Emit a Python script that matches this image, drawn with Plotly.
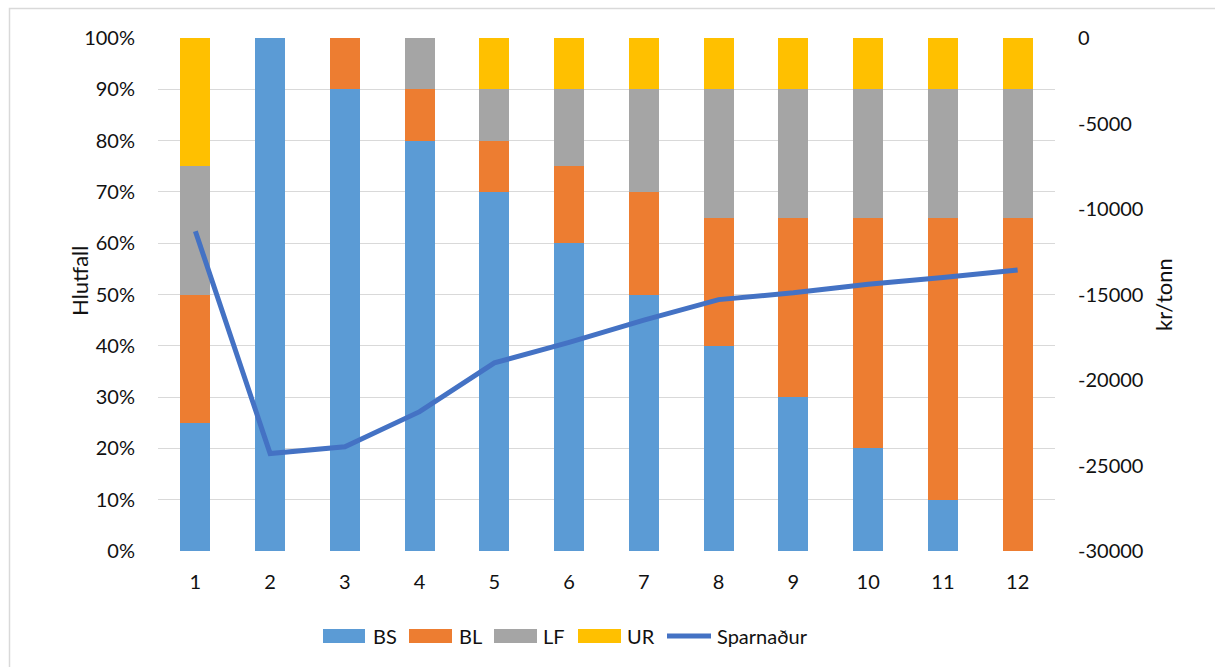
import plotly.graph_objects as go

# Blend scenarios 1..12
scenarios = [str(i) for i in range(1, 13)]

# Share of each component (%)
bs = [25, 100, 90, 80, 70, 60, 50, 40, 30, 20, 10, 0]
bl = [25, 0, 10, 10, 10, 15, 20, 25, 35, 45, 55, 65]
lf = [25, 0, 0, 10, 10, 15, 20, 25, 25, 25, 25, 25]
ur = [25, 0, 0, 0, 10, 10, 10, 10, 10, 10, 10, 10]

# Savings (kr/tonn)
sparnadur = [-11300, -24300, -23900, -21850, -19000, -17800,
             -16500, -15300, -14900, -14400, -14000, -13570]

left_ticks = list(range(0, 101, 10))
left_labels = [f"{v}%" for v in left_ticks]
right_ticks = list(range(-30000, 1, 5000))
right_labels = [str(v) for v in right_ticks]

colors = {"BS": "#5B9BD5", "BL": "#ED7D31", "LF": "#A5A5A5", "UR": "#FFC000"}
line_color = "#4472C4"
FONT = "Lato"
FS = 20
TXT = "#111111"

W, H = 1215, 667
L, R, T, B = 158, 160, 38, 116
PW, PH = W - L - R, H - T - B


def px(x):
    return (x - L) / PW


def py(y):
    return (H - B - y) / PH


fig = go.Figure()
for name, vals in [("BS", bs), ("BL", bl), ("LF", lf), ("UR", ur)]:
    fig.add_trace(go.Bar(x=scenarios, y=vals, name=name,
                         marker=dict(color=colors[name], line=dict(width=0)),
                         showlegend=False))

fig.add_trace(go.Scatter(x=scenarios, y=sparnadur, name="Sparnaður", yaxis="y2",
                         mode="lines", line=dict(color=line_color, width=5),
                         showlegend=False))

fig.update_layout(
    width=W, height=H,
    margin=dict(l=L, r=R, t=T, b=B),
    barmode="stack", bargap=0.6,
    plot_bgcolor="white", paper_bgcolor="white",
    font=dict(family=FONT, size=FS, color=TXT),
    xaxis=dict(type="category", showgrid=False, showline=False, zeroline=False,
               ticks="", ticklabelstandoff=17),
    yaxis=dict(range=[0, 100], tickmode="array", tickvals=left_ticks, ticktext=left_labels,
               showgrid=True, gridcolor="#d9d9d9", gridwidth=1.3,
               zeroline=False, showline=False, ticks="", ticklabelstandoff=22),
    yaxis2=dict(range=[-30000, 0], tickmode="array", tickvals=right_ticks,
                ticktext=right_labels, overlaying="y", side="right",
                showgrid=False, zeroline=False, showline=False, ticks="",
                ticklabelstandoff=22,
                title=dict(text="kr/tonn", standoff=14, font=dict(size=22))),
)

# Left axis title sits right beside the tick labels
fig.add_annotation(xref="paper", yref="paper", x=px(79), y=py(281),
                   text="Hlutfall", textangle=-90, showarrow=False,
                   xanchor="center", yanchor="middle",
                   font=dict(family=FONT, size=22, color=TXT))

# Legend drawn as swatches and labels
legend_items = [
    ("BS", colors["BS"], 323, 365, 371),
    ("BL", colors["BL"], 409, 452, 457),
    ("LF", colors["LF"], 494, 537, 541),
    ("UR", colors["UR"], 578, 621, 625),
]
ly = 636
for label, col, x0, x1, tx in legend_items:
    fig.add_shape(type="rect", xref="paper", yref="paper",
                  x0=px(x0), x1=px(x1), y0=py(ly + 7), y1=py(ly - 7),
                  fillcolor=col, line=dict(width=0))
    fig.add_annotation(xref="paper", yref="paper", x=px(tx), y=py(ly),
                       text=label, showarrow=False, xanchor="left", yanchor="middle",
                       font=dict(family=FONT, size=FS, color=TXT))
fig.add_shape(type="line", xref="paper", yref="paper",
              x0=px(667), x1=px(711), y0=py(ly), y1=py(ly),
              line=dict(color=line_color, width=5))
fig.add_annotation(xref="paper", yref="paper", x=px(715), y=py(ly),
                   text="Sparnaður", showarrow=False, xanchor="left", yanchor="middle",
                   font=dict(family=FONT, size=FS, color=TXT))

# Chart border
fig.add_shape(type="rect", xref="paper", yref="paper",
              x0=px(9.5), x1=px(1225), y0=py(680), y1=py(8.5),
              line=dict(color="#d9d9d9", width=1.5), fillcolor="rgba(0,0,0,0)",
              layer="below")

fig.write_html("out.html")
